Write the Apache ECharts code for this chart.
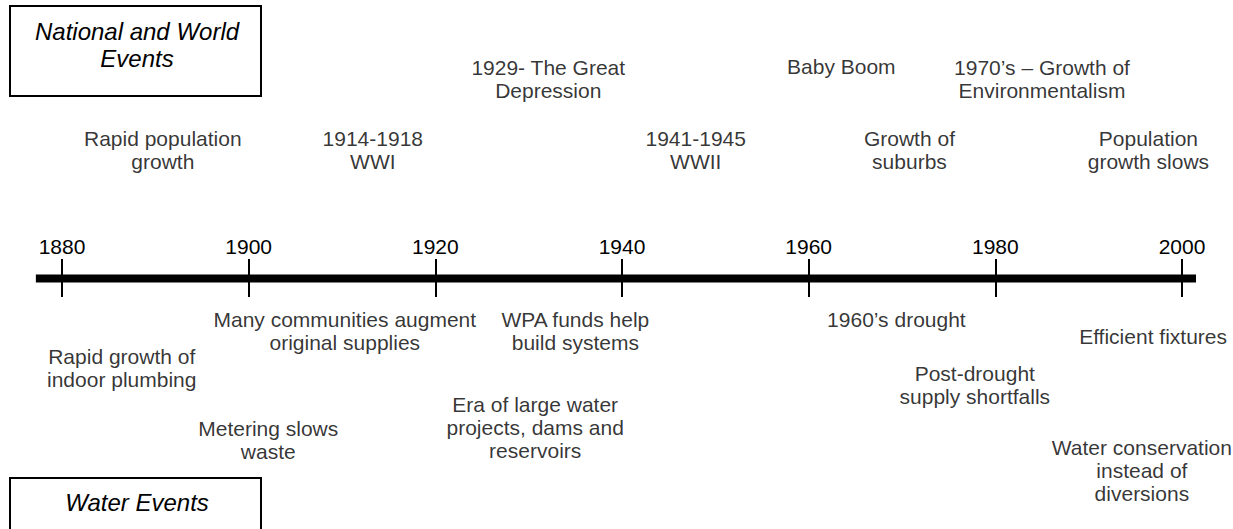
<!DOCTYPE html>
<html><head><meta charset="utf-8">
<script src="https://cdn.jsdelivr.net/npm/echarts@6/dist/echarts.min.js"></script>
<style>html,body{margin:0;padding:0;background:#fff}#c{width:1233px;height:529px}</style>
</head><body><div id="c"></div>
<script>
// ---- data ----
const tickYears = [1880, 1900, 1920, 1940, 1960, 1980, 2000];
const timelineExtent = [1877.2, 2001.5];

const worldEvents = ['Rapid population\ngrowth', '1914-1918\nWWI', '1929- The Great\nDepression', '1941-1945\nWWII',
  'Baby Boom', 'Growth of\nsuburbs', '1970’s – Growth of\nEnvironmentalism', 'Population\ngrowth slows'];
const worldYears = [1890.8, 1913.3, 1932.1, 1947.9, 1963.5, 1970.8, 1985.0, 1996.4];
const worldLanes = [5.59, 5.59, 8.67, 5.59, 9.2, 5.59, 8.67, 5.59];

const waterEvents = ['Rapid growth of\nindoor plumbing', 'Many communities augment\noriginal supplies', 'Metering slows\nwaste',
  'WPA funds help\nbuild systems', 'Era of large water\nprojects, dams and\nreservoirs', '1960’s drought',
  'Post-drought\nsupply shortfalls', 'Efficient fixtures', 'Water conservation\ninstead of\ndiversions'];
const waterYears = [1886.4, 1910.3, 1902.1, 1935.0, 1930.7, 1969.4, 1977.8, 1996.9, 1995.7];
const waterLanes = [-3.87, -2.30, -7.0, -2.30, -6.46, -1.80, -4.61, -2.54, -8.33];

const boxTitles = ['National and World\nEvents', 'Water Events'];

// ---- layout ----
const W = 1233, H = 529;
const axisLeft = 62, axisRight = 51;          // pixel margins of the 1880..2000 axis
const yMin = tickYears[0], yMax = tickYears[tickYears.length - 1];
const pxPerYear = (W - axisLeft - axisRight) / (yMax - yMin);
const fullMin = yMin - axisLeft / pxPerYear;   // extent of a full-width grid sharing the same scale
const fullMax = yMax + axisRight / pxPerYear;

const FONT = '"Liberation Sans", Arial, sans-serif';
const chart = echarts.init(document.getElementById('c'), null, {renderer: 'svg', width: W, height: H});

function eventData(names, years, lanes) {
  return names.map((n, i) => ({name: n, value: [years[i], lanes[i]]}));
}
const labelStyle = {
  show: true, position: 'inside', formatter: '{b}', color: '#000',
  fontFamily: FONT, fontSize: 21, lineHeight: 23, align: 'center', verticalAlign: 'middle'
};

chart.setOption({
  backgroundColor: '#fff',
  animation: false,
  grid: [
    {left: axisLeft, right: axisRight, top: 259, height: 38},
    {left: 0, right: 0, top: 0, bottom: 0}
  ],
  xAxis: [
    {
      gridIndex: 0, type: 'value', position: 'top', min: yMin, max: yMax, interval: 20,
      axisLine: {show: false, onZero: false},
      axisTick: {show: true, inside: true, length: 38, lineStyle: {color: '#000', width: 2}},
      axisLabel: {show: true, margin: 2, color: '#000', fontFamily: FONT, fontSize: 21,
        formatter: v => String(v)},
      splitLine: {show: false}
    },
    {gridIndex: 1, type: 'value', min: fullMin, max: fullMax, show: false}
  ],
  yAxis: [
    {gridIndex: 0, type: 'value', min: 0, max: 1, show: false},
    {gridIndex: 1, type: 'value', min: -10.89, max: 12.11, show: false}
  ],
  series: [
    {
      type: 'line', xAxisIndex: 1, yAxisIndex: 1, silent: true,
      symbol: 'none', data: [[timelineExtent[0], 0], [timelineExtent[1], 0]],
      lineStyle: {color: '#000', width: 8, cap: 'butt'}
    },
    {
      type: 'scatter', xAxisIndex: 1, yAxisIndex: 1, symbolSize: 0, silent: true,
      itemStyle: {color: 'rgba(0,0,0,0)'},
      data: eventData(worldEvents, worldYears, worldLanes), label: labelStyle
    },
    {
      type: 'scatter', xAxisIndex: 1, yAxisIndex: 1, symbolSize: 0, silent: true,
      itemStyle: {color: 'rgba(0,0,0,0)'},
      data: eventData(waterEvents, waterYears, waterLanes), label: labelStyle
    }
  ],
  graphic: [
    {type: 'rect', shape: {x: 10, y: 6, width: 251, height: 90}, style: {fill: '#fff', stroke: '#000', lineWidth: 2}, z: 10},
    {type: 'text', x: 137, y: 45, z: 11, style: {text: boxTitles[0], fill: '#000', font: 'italic 24px ' + FONT,
      align: 'center', verticalAlign: 'middle', lineHeight: 27}},
    {type: 'rect', shape: {x: 10, y: 478, width: 251, height: 80}, style: {fill: '#fff', stroke: '#000', lineWidth: 2}, z: 10},
    {type: 'text', x: 137, y: 502, z: 11, style: {text: boxTitles[1], fill: '#000', font: 'italic 24px ' + FONT,
      align: 'center', verticalAlign: 'middle'}}
  ]
});
</script>
</body></html>
